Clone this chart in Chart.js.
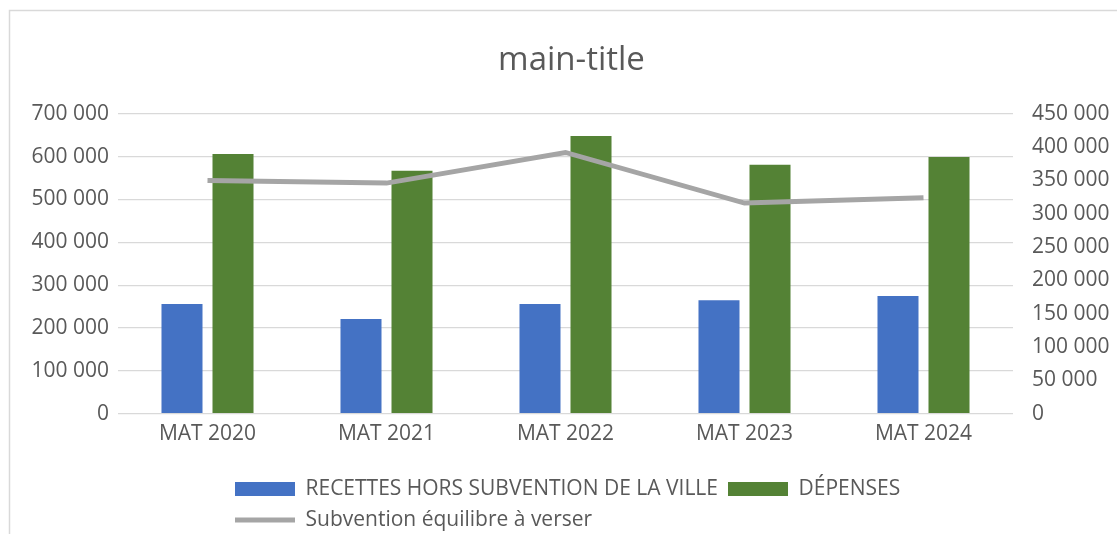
<!DOCTYPE html>
<html>
<head>
<meta charset="utf-8">
<script src="https://cdn.jsdelivr.net/npm/chart.js@4.4.1/dist/chart.umd.min.js"></script>
<style>
  html, body { margin: 0; padding: 0; background: #ffffff; }
  #wrap { width: 1117px; height: 534px; position: relative; }
</style>
</head>
<body>
<div id="wrap"><canvas id="c" width="1117" height="534"></canvas></div>
<script>
// Categories and series
const categories = ['MAT 2020', 'MAT 2021', 'MAT 2022', 'MAT 2023', 'MAT 2024'];
const recettes = [256000, 221000, 256000, 265000, 275000];
const depenses = [606000, 567000, 648000, 581000, 599000];
const subvention = [350000, 346000, 392000, 316000, 324000];

// Axis ranges
const leftAxis = { min: 0, max: 700000, step: 100000 };
const rightAxis = { min: 0, max: 450000, step: 50000 };

const TEXT = '#595959';
const GRID = '#d9d9d9';

// "700000" -> "700 000"
const fmt = v => String(v).replace(/\B(?=(\d{3})+(?!\d))/g, ' ');

Chart.defaults.font.family = "'Open Sans', 'Liberation Sans', sans-serif";
Chart.defaults.color = TEXT;

// Light frame along the top and left edges of the chart
const framePlugin = {
  id: 'frame',
  beforeDraw(chart) {
    const { ctx } = chart;
    ctx.save();
    ctx.strokeStyle = GRID;
    ctx.lineWidth = 1.5;
    ctx.beginPath();
    ctx.moveTo(9.5, chart.height);
    ctx.lineTo(9.5, 10.5);
    ctx.lineTo(chart.width, 10.5);
    ctx.stroke();
    ctx.restore();
  }
};

// Left-align the legend block under the plot, nudge the title to the right
const blockShift = {
  id: 'blockShift',
  afterLayout(chart) {
    const lg = chart.legend;
    const dx = 225 - lg.left;
    lg.left += dx;
    lg.right += dx;
    const tb = chart.titleBlock;
    tb.left += 13;
    tb.right += 13;
  }
};

new Chart(document.getElementById('c'), {
  data: {
    labels: categories,
    datasets: [
      {
        type: 'bar',
        label: 'RECETTES HORS SUBVENTION DE LA VILLE',
        data: recettes,
        backgroundColor: '#4472C4',
        yAxisID: 'y',
        order: 1,
        categoryPercentage: 0.57,
        barPercentage: 0.804
      },
      {
        type: 'bar',
        label: 'DÉPENSES',
        data: depenses,
        backgroundColor: '#548235',
        yAxisID: 'y',
        order: 1,
        categoryPercentage: 0.57,
        barPercentage: 0.804
      },
      {
        type: 'line',
        label: 'Subvention équilibre à verser',
        data: subvention,
        borderColor: '#A5A5A5',
        backgroundColor: '#A5A5A5',
        borderWidth: 5,
        pointRadius: 0,
        pointHoverRadius: 0,
        tension: 0,
        yAxisID: 'y1',
        order: 0
      }
    ]
  },
  options: {
    responsive: false,
    devicePixelRatio: 1,
    animation: false,
    layout: { padding: 0 },
    plugins: {
      title: {
        display: true,
        text: 'main-title',
        color: TEXT,
        font: { size: 33, weight: 'normal', lineHeight: 1.2 },
        padding: { top: 41.2, bottom: 33 }
      },
      legend: {
        position: 'bottom',
        align: 'start',
        fullSize: false,
        maxHeight: 65.5,
        labels: {
          usePointStyle: true,
          pointStyleWidth: 60,
          boxHeight: 14,
          padding: 10,
          color: TEXT,
          font: { size: 21 },
          sort: (a, b) => a.datasetIndex - b.datasetIndex,
          generateLabels(chart) {
            const items = Chart.defaults.plugins.legend.labels.generateLabels(chart);
            return items.map(it => {
              const ds = chart.data.datasets[it.datasetIndex];
              it.pointStyle = ds.type === 'line' ? 'line' : 'rect';
              return it;
            });
          }
        }
      },
      tooltip: { enabled: false }
    },
    scales: {
      x: {
        grid: { display: false },
        border: { display: false },
        ticks: { color: TEXT, font: { size: 21 }, padding: 0, maxRotation: 0 },
        afterFit(s) { s.height = 54.8; }
      },
      y: {
        position: 'left',
        min: leftAxis.min,
        max: leftAxis.max,
        grid: { color: GRID, lineWidth: 1.3, drawTicks: false },
        border: { display: false },
        ticks: { stepSize: leftAxis.step, color: TEXT, font: { size: 21 }, padding: 9, callback: fmt },
        afterFit(s) { s.width = 118; }
      },
      y1: {
        position: 'right',
        min: rightAxis.min,
        max: rightAxis.max,
        grid: { display: false, drawTicks: false },
        border: { display: false },
        ticks: { stepSize: rightAxis.step, color: TEXT, font: { size: 21 }, padding: 19, callback: fmt },
        afterFit(s) { s.width = 104; }
      }
    }
  },
  plugins: [framePlugin, blockShift]
});
</script>
</body>
</html>
